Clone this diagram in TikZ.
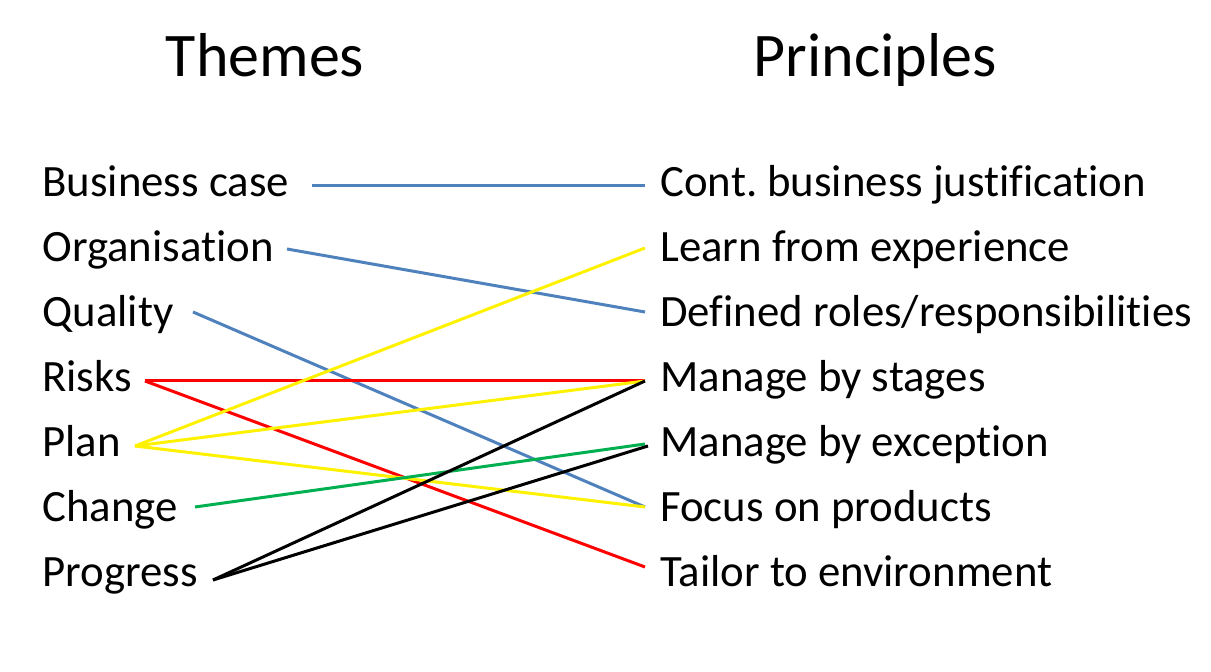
\documentclass[tikz,border=0pt]{standalone}
\usepackage{fontspec}
\setmainfont{Carlito}[Ligatures=NoCommon]
\frenchspacing
\definecolor{linkblue}{RGB}{79,129,189}
\definecolor{linkgreen}{RGB}{0,176,80}
\begin{document}
\begin{tikzpicture}[x=0.5pt,y=-0.5pt,
  title/.style={font=\fontsize{31}{36}\selectfont, inner sep=0, anchor=base},
  item/.style={font=\fontsize{22.4}{26}\selectfont, anchor=base west, inner sep=0},
  link/.style={line width=1.5pt}]
\useasboundingbox (0,0) rectangle (1211,672);
% headings
\node[title] (themes) at (265,77) {Themes};
\node[title] (principles) at (875,77) {Principles};
% themes
\node[item] (t1) at (42,197) {Business case};
\node[item] (t2) at (42,262) {Organisation};
\node[item] (t3) at (42,327) {Quality};
\node[item] (t4) at (42,392) {Risks};
\node[item] (t5) at (42,457) {Plan};
\node[item] (t6) at (42,522) {Change};
\node[item] (t7) at (42,587) {Progress};
% principles
\node[item] (p1) at (660,197) {Cont. business justification};
\node[item] (p2) at (660,262) {Learn from experience};
\node[item] (p3) at (660,327) {Defined roles/responsibilities};
\node[item] (p4) at (660,392) {Manage by stages};
\node[item] (p5) at (660,457) {Manage by exception};
\node[item] (p6) at (660,522) {Focus on products};
\node[item] (p7) at (660,587) {Tailor to environment};
% connector ends
\coordinate (a1) at (312,186);
\coordinate (a2) at (287,249);
\coordinate (a3) at (193,312);
\coordinate (a4) at (145,381);
\coordinate (a5) at (135,446);
\coordinate (a6) at (195,507);
\coordinate (a7) at (213,580);
\coordinate (b1) at (645,186);
\coordinate (b2) at (645,248);
\coordinate (b3) at (645,312);
\coordinate (b4) at (645,381);
\coordinate (b5) at (645,444);
\coordinate (b5x) at (648,446);
\coordinate (b6) at (645,507);
\coordinate (b7) at (645,567);
% links
\draw[link,linkblue] (a1) -- (b1);
\draw[link,linkblue] (a2) -- (b3);
\draw[link,linkblue] (a3) -- (b6);
\draw[link,red] (a4) -- (b4);
\draw[link,red] (a4) -- (b7);
\draw[link,yellow] (a5) -- (b2);
\draw[link,yellow] (a5) -- (b4);
\draw[link,yellow] (a5) -- (b6);
\draw[link,linkgreen] (a6) -- (b5);
\draw[link,black] (a7) -- (b4);
\draw[link,black] (a7) -- (b5x);
\end{tikzpicture}
\end{document}
